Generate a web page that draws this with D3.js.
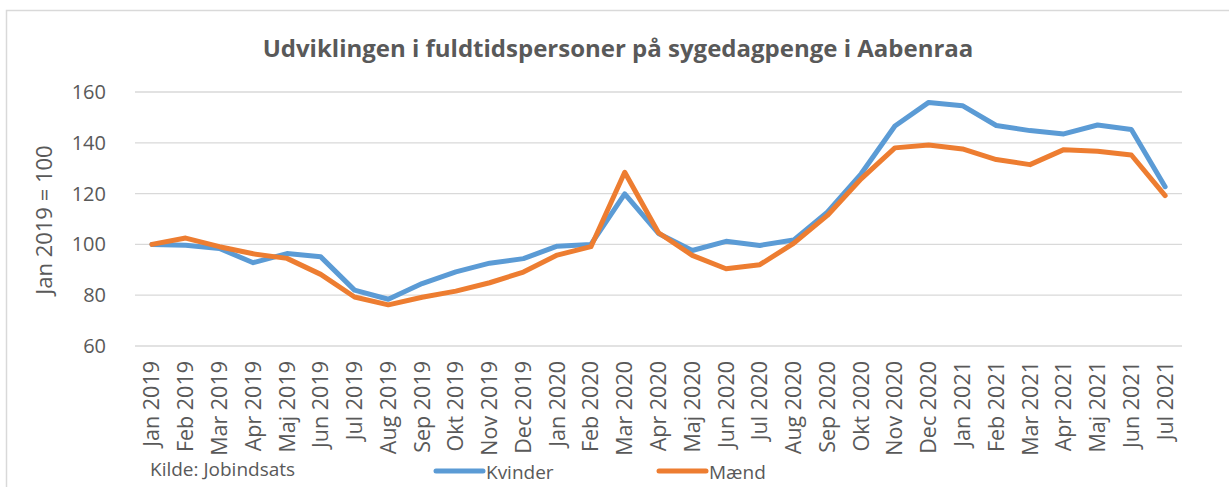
<!DOCTYPE html>
<html>
<head>
<meta charset="utf-8">
<script src="https://cdn.jsdelivr.net/npm/d3@7"></script>
<style>
  body { margin: 0; background: #fff; }
  svg text { font-family: "Open Sans", "Noto Sans", sans-serif; fill: #595959; }
</style>
</head>
<body>
<svg id="chart" width="1229" height="487"></svg>
<script>
const months = ['Jan 2019','Feb 2019','Mar 2019','Apr 2019','Maj 2019','Jun 2019','Jul 2019','Aug 2019','Sep 2019','Okt 2019','Nov 2019','Dec 2019',
  'Jan 2020','Feb 2020','Mar 2020','Apr 2020','Maj 2020','Jun 2020','Jul 2020','Aug 2020','Sep 2020','Okt 2020','Nov 2020','Dec 2020',
  'Jan 2021','Feb 2021','Mar 2021','Apr 2021','Maj 2021','Jun 2021','Jul 2021'];
const kvinder = [100, 99.7, 98.4, 92.8, 96.4, 95.1, 82, 78.4, 84.6, 89.2, 92.6, 94.4,
  99.3, 100, 119.9, 104.3, 97.6, 101.2, 99.6, 101.7, 112.7, 127.8, 146.6, 155.9,
  154.6, 146.8, 144.8, 143.5, 147, 145.2, 122.7];
const maend = [100, 102.5, 99.1, 96.3, 94.5, 88.2, 79.3, 76.2, 79.2, 81.6, 84.9, 89.1,
  95.8, 99.1, 128.4, 104.6, 95.7, 90.4, 92, 100.4, 111.4, 125.8, 138, 139.1,
  137.6, 133.4, 131.4, 137.3, 136.7, 135.2, 119.2];
const yTicks = [60, 80, 100, 120, 140, 160];

const svg = d3.select('#chart');

// chart frame
svg.append('path')
  .attr('d', 'M6.5,487 V10.5 H1229')
  .attr('fill', 'none')
  .attr('stroke', '#d9d9d9')
  .attr('stroke-width', 1.5);

const margin = {left: 135, right: 47, top: 92, bottom: 141};
const w = 1229 - margin.left - margin.right;
const h = 487 - margin.top - margin.bottom;

const x = d3.scaleBand().domain(months).range([0, w]);
const y = d3.scaleLinear().domain([60, 160]).range([h, 0]);

const g = svg.append('g').attr('transform', `translate(${margin.left},${margin.top})`);

// grid
g.selectAll('.grid').data(yTicks).enter()
  .append('line')
  .attr('x1', 0).attr('x2', w)
  .attr('y1', d => y(d)).attr('y2', d => y(d))
  .attr('stroke', '#d9d9d9').attr('stroke-width', 1.3);

// y axis labels
const yAxis = g.append('g')
  .call(d3.axisLeft(y).tickValues(yTicks).tickSize(0).tickPadding(29));
yAxis.select('.domain').remove();
yAxis.selectAll('text').style('font-size', '20px').attr('fill', '#595959');

// x axis labels
const xAxis = g.append('g')
  .attr('transform', `translate(0,${h})`)
  .call(d3.axisBottom(x).tickSize(0));
xAxis.select('.domain').remove();
xAxis.selectAll('text')
  .style('font-size', '21.5px')
  .attr('fill', '#595959')
  .attr('text-anchor', 'end')
  .attr('transform', 'rotate(-90)')
  .attr('x', -15)
  .attr('y', 0)
  .attr('dy', '0.35em');

const line = d3.line()
  .x((d, i) => x(months[i]) + x.bandwidth() / 2)
  .y(d => y(d));

g.append('path').datum(kvinder)
  .attr('d', line)
  .attr('fill', 'none')
  .attr('stroke', '#5b9bd5')
  .attr('stroke-width', 5)
  .attr('stroke-linejoin', 'round')
  .attr('stroke-linecap', 'round');

g.append('path').datum(maend)
  .attr('d', line)
  .attr('fill', 'none')
  .attr('stroke', '#ed7d31')
  .attr('stroke-width', 5)
  .attr('stroke-linejoin', 'round')
  .attr('stroke-linecap', 'round');

// title
svg.append('text')
  .attr('x', 618).attr('y', 57)
  .attr('text-anchor', 'middle')
  .style('font-size', '24px')
  .style('font-weight', 'bold')
  .text('Udviklingen i fuldtidspersoner på sygedagpenge i Aabenraa');

// y title
svg.append('text')
  .attr('transform', 'translate(44,220) rotate(-90)')
  .attr('text-anchor', 'middle')
  .attr('dy', '0.35em')
  .style('font-size', '22px')
  .text('Jan 2019 = 100');

// source
svg.append('text')
  .attr('x', 150).attr('y', 476)
  .style('font-size', '19px')
  .text('Kilde: Jobindsats');

// legend
const legend = [
  {name: 'Kvinder', color: '#5b9bd5', x: 436},
  {name: 'Mænd', color: '#ed7d31', x: 659}
];
const lg = svg.selectAll('.legend').data(legend).enter().append('g');
lg.append('line')
  .attr('x1', d => d.x).attr('x2', d => d.x + 47)
  .attr('y1', 471).attr('y2', 471)
  .attr('stroke', d => d.color)
  .attr('stroke-width', 5)
  .attr('stroke-linecap', 'round');
lg.append('text')
  .attr('x', d => d.x + 50).attr('y', 479)
  .style('font-size', '19px')
  .text(d => d.name);
</script>
</body>
</html>
